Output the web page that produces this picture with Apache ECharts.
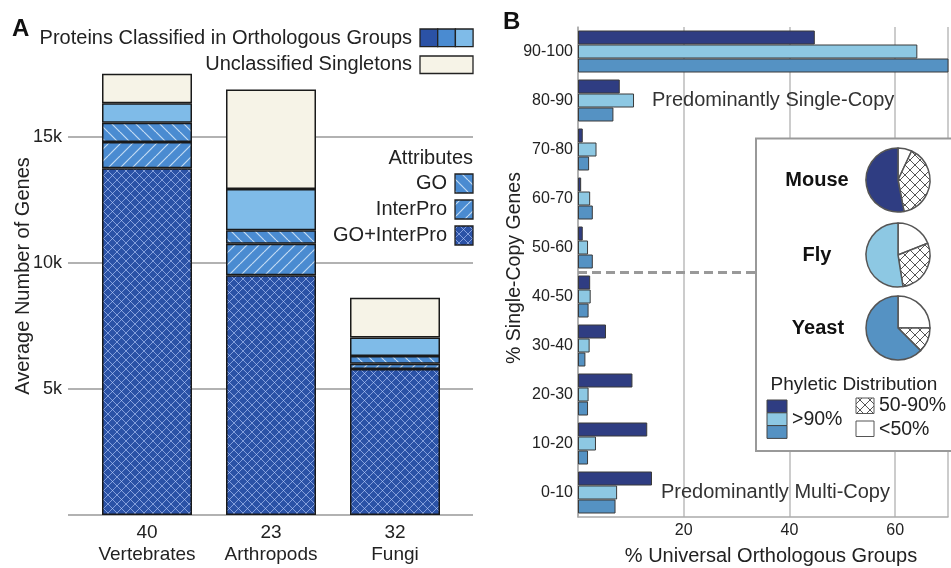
<!DOCTYPE html>
<html><head><meta charset="utf-8">
<script src="https://cdn.jsdelivr.net/npm/echarts@6/dist/echarts.min.js"></script>
<style>html,body{margin:0;padding:0;background:#fff}#c{width:951px;height:568px}</style>
</head><body><div id="c"></div>
<script>
// ---------- Panel A data ----------
const cladesA = ['Vertebrates', 'Arthropods', 'Fungi'];
const speciesCountA = [40, 23, 32];
const goInterPro = [13760, 9510, 5790];
const interProOnly = [1040, 1250, 210];
const goOnly = [770, 540, 310];
const noAttribute = [770, 1640, 730];
const singletons = [1170, 3940, 1580];
const yTicksA = [5000, 10000, 15000];

// ---------- Panel B data ----------
const bins = ['0-10', '10-20', '20-30', '30-40', '40-50', '50-60', '60-70', '70-80', '80-90', '90-100'];
const mouseB = [14.0, 13.1, 10.3, 5.3, 2.3, 0.9, 0.6, 0.9, 7.9, 44.8];
const flyB = [7.4, 3.4, 2.0, 2.2, 2.4, 1.9, 2.3, 3.5, 10.6, 64.2];
const yeastB = [7.1, 1.9, 1.9, 1.4, 2.0, 2.8, 2.8, 2.1, 6.7, 71.0];
const xTicksB = [20, 40, 60];
// pies: [<50%, 50-90%, >90%]
const pieLabels = ['<50%', '50-90%', '>90%'];
const mousePie = [7, 40, 53];
const flyPie = [19, 28.5, 52.5];
const yeastPie = [25, 12.5, 62.5];

const FONT = '"Liberation Sans", Arial, Helvetica, sans-serif';
const cDark = '#2b52a6', cMed = '#4a8bd1', cLight = '#7fbbe8', cCream = '#f6f3e7';
const bDark = '#2f3d82', bLight = '#8dc8e3', bMed = '#5592c3';

function hatch(bg, line, size, dirs, lw) {
  const c = document.createElement('canvas');
  c.width = size; c.height = size;
  const g = c.getContext('2d');
  g.fillStyle = bg; g.fillRect(0, 0, size, size);
  g.strokeStyle = line; g.lineWidth = lw;
  for (const k of [-size, 0, size]) {
    if (dirs.includes('/')) { g.beginPath(); g.moveTo(k, size); g.lineTo(k + size, 0); g.stroke(); }
    if (dirs.includes('\\')) { g.beginPath(); g.moveTo(k, 0); g.lineTo(k + size, size); g.stroke(); }
  }
  return { image: c, repeat: 'repeat' };
}
const patCross = hatch(cDark, 'rgba(190,210,255,0.6)', 9, '/\\', 1);
const patGO = hatch(cMed, 'rgba(235,245,255,0.75)', 12, '\\', 1.2);
const patIP = hatch(cMed, 'rgba(235,245,255,0.75)', 12, '/', 1.2);
const patPie = hatch('#ffffff', '#555555', 10, '/\\', 1);
const patPie2 = hatch('#ffffff', '#555555', 10, '/\\', 1);

const chart = echarts.init(document.getElementById('c'), null, { renderer: 'canvas' });

const barA = (name, data, color) => ({
  type: 'bar', name, data, stack: 'A', xAxisIndex: 1, yAxisIndex: 1, barWidth: 90,
  itemStyle: { color, borderColor: '#1a1a1a', borderWidth: 1.5 }, silent: true
});
const barB = (name, data, color) => ({
  type: 'bar', name, data, xAxisIndex: 2, yAxisIndex: 2, barWidth: 14, barGap: '0%',
  itemStyle: { color, borderColor: '#3a3a3a', borderWidth: 1 }, silent: true
});
const pie = (name, vals, color, cy) => ({
  type: 'pie', name, z: 9, center: [898, cy], radius: 32, startAngle: 90, clockwise: true,
  label: { show: false }, labelLine: { show: false }, silent: true,
  itemStyle: { borderColor: '#555', borderWidth: 1.5 },
  data: vals.map((v, i) => ({ name: pieLabels[i], value: v,
    itemStyle: { color: i === 0 ? '#ffffff' : (i === 1 ? patPie : color) } }))
});

const txt = (text, x, y, opt, extra) => Object.assign({
  type: 'text', z: 10, x, y,
  style: Object.assign({ text, font: '20px ' + FONT, fill: '#222', textVerticalAlign: 'middle' }, opt || {})
}, extra || {});
const box = (x, y, w, h, fill, z) => ({ type: 'rect', z: z || 10, shape: { x, y, width: w, height: h },
  style: { fill, stroke: '#222', lineWidth: 1.3 } });

const option = {
  animation: false,
  grid: [
    { left: 68, top: 61.4, width: 405, height: 453.6 },
    { left: 85, top: 61.4, width: 372, height: 453.6 },
    { left: 578, top: 27, width: 375, height: 490 }
  ],
  xAxis: [
    { type: 'category', gridIndex: 0, data: cladesA, show: false },
    { type: 'category', gridIndex: 1, data: cladesA,
      axisLine: { show: false }, axisTick: { show: false },
      axisLabel: { interval: 0, margin: 7, fontSize: 19, lineHeight: 22, color: '#222', fontFamily: FONT,
        formatter: (v, i) => speciesCountA[i] + '\n' + v } },
    { type: 'value', gridIndex: 2, min: 0, max: 70, interval: 20,
      axisLine: { show: true, lineStyle: { color: '#aaa', width: 1.5 } }, axisTick: { show: false },
      splitLine: { show: true, lineStyle: { color: '#bbb', width: 1.5 } },
      axisLabel: { margin: 6, fontSize: 16, color: '#222', fontFamily: FONT,
        formatter: v => xTicksB.includes(v) ? String(v) : '' } }
  ],
  yAxis: [
    { type: 'value', gridIndex: 0, min: 0, max: 18000, interval: 5000,
      axisLine: { show: false }, axisTick: { show: false },
      splitLine: { show: true, showMaxLine: false, lineStyle: { color: '#999', width: 1.5 } },
      axisLabel: { margin: 6, fontSize: 18, color: '#222', fontFamily: FONT,
        formatter: v => yTicksA.includes(v) ? (v / 1000) + 'k' : '' } },
    { type: 'value', gridIndex: 1, min: 0, max: 18000, interval: 5000, show: false, splitLine: { show: false } },
    { type: 'category', gridIndex: 2, data: bins,
      axisLine: { show: true, lineStyle: { color: '#aaa', width: 1.5 } }, axisTick: { show: false },
      axisLabel: { interval: 0, margin: 5, fontSize: 16, color: '#222', fontFamily: FONT } },
    { type: 'value', gridIndex: 2, min: 0, max: 10, show: false, splitLine: { show: false } }
  ],
  series: [
    barA('GO+InterPro', goInterPro, patCross),
    barA('InterPro', interProOnly, patIP),
    barA('GO', goOnly, patGO),
    barA('No attribute', noAttribute, cLight),
    barA('Unclassified Singletons', singletons, cCream),
    barB('Mouse', mouseB, bDark),
    barB('Fly', flyB, bLight),
    barB('Yeast', yeastB, bMed),
    { type: 'line', xAxisIndex: 2, yAxisIndex: 3, data: [[0, 5]], symbol: 'none', silent: true,
      lineStyle: { opacity: 0 },
      markLine: { silent: true, symbol: ['none', 'none'], label: { show: false },
        lineStyle: { type: [9, 5], width: 3, color: '#999' }, data: [{ yAxis: 5 }] } },
    pie('Mouse', mousePie, bDark, 180),
    pie('Fly', flyPie, bLight, 255),
    pie('Yeast', yeastPie, bMed, 328)
  ],
  graphic: [
    txt('A', 12, 29, { font: 'bold 24px ' + FONT, fill: '#111' }),
    txt('Average Number of Genes', 23, 276, { textAlign: 'center' }, { rotation: Math.PI / 2 }),
    txt('Proteins Classified in Orthologous Groups', 412, 38, { textAlign: 'right' }),
    box(420, 29, 17.7, 17.7, cDark), box(437.7, 29, 17.7, 17.7, cMed), box(455.4, 29, 17.7, 17.7, cLight),
    txt('Unclassified Singletons', 412, 64, { textAlign: 'right' }),
    box(420, 56, 53, 17.5, cCream),
    txt('Attributes', 473, 158, { textAlign: 'right' }),
    txt('GO', 447, 183, { textAlign: 'right' }),
    box(455, 174, 18, 19, patGO),
    txt('InterPro', 447, 209.5, { textAlign: 'right' }),
    box(455, 200, 18, 19, patIP),
    txt('GO+InterPro', 447, 235, { textAlign: 'right' }),
    box(455, 226, 18, 19, patCross),

    txt('B', 503, 22, { font: 'bold 24px ' + FONT, fill: '#111' }),
    txt('% Single-Copy Genes', 515, 268, { textAlign: 'center', font: '19.5px ' + FONT }, { rotation: Math.PI / 2 }),
    txt('% Universal Orthologous Groups', 771, 556, { textAlign: 'center' }),
    txt('Predominantly Single-Copy', 652, 100, { fill: '#333' }),
    txt('Predominantly Multi-Copy', 661, 492, { fill: '#333' }),
    { type: 'rect', z: 8, shape: { x: 756, y: 138.5, width: 220, height: 312.5 },
      style: { fill: '#fff', stroke: '#999', lineWidth: 2 } },
    txt('Mouse', 817, 180, { font: 'bold 20px ' + FONT, textAlign: 'center', fill: '#111' }),
    txt('Fly', 817, 255, { font: 'bold 20px ' + FONT, textAlign: 'center', fill: '#111' }),
    txt('Yeast', 818, 328, { font: 'bold 20px ' + FONT, textAlign: 'center', fill: '#111' }),
    txt('Phyletic Distribution', 854, 385, { textAlign: 'center', font: '19px ' + FONT }),
    { type: 'rect', z: 10, shape: { x: 767, y: 400, width: 20, height: 12.8 }, style: { fill: bDark, stroke: '#444', lineWidth: 1 } },
    { type: 'rect', z: 10, shape: { x: 767, y: 412.8, width: 20, height: 12.8 }, style: { fill: bLight, stroke: '#444', lineWidth: 1 } },
    { type: 'rect', z: 10, shape: { x: 767, y: 425.6, width: 20, height: 12.8 }, style: { fill: bMed, stroke: '#444', lineWidth: 1 } },
    txt('>90%', 792, 420, { font: '19.5px ' + FONT }),
    { type: 'rect', z: 10, shape: { x: 856, y: 398, width: 18, height: 15.5 }, style: { fill: patPie2, stroke: '#555', lineWidth: 1 } },
    txt('50-90%', 879, 406, { font: '19.5px ' + FONT }),
    { type: 'rect', z: 10, shape: { x: 856, y: 421, width: 18, height: 15.5 }, style: { fill: '#fff', stroke: '#555', lineWidth: 1 } },
    txt('<50%', 879, 430, { font: '19.5px ' + FONT })
  ]
};
chart.setOption(option);
</script></body></html>
